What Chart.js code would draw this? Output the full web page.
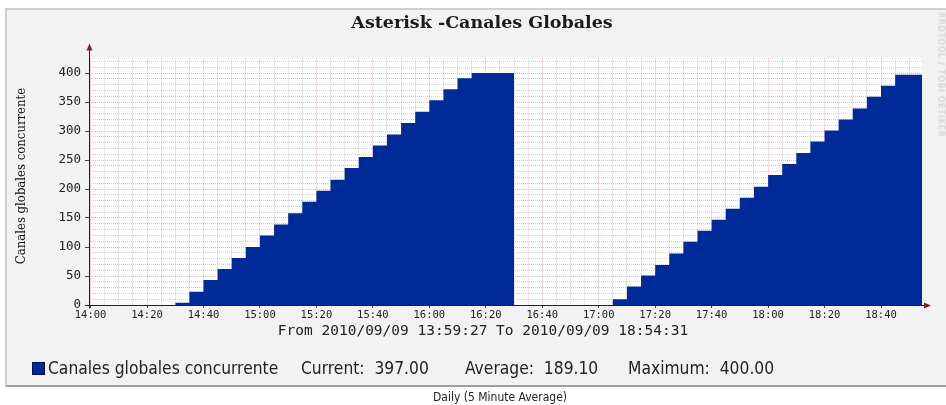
<!DOCTYPE html>
<html>
<head>
<meta charset="utf-8">
<script src="https://cdn.jsdelivr.net/npm/chart.js@4.4.0/dist/chart.umd.min.js"></script>
<style>
  html, body { margin: 0; padding: 0; background: #fff; width: 946px; height: 405px; overflow: hidden; position: relative; }
  #frame { position: absolute; left: 5px; top: 8px; width: 945px; height: 375px; background: #f2f2f2;
           border-top: 2px solid #cfcfcf; border-left: 2px solid #cfcfcf; border-bottom: 2px solid #9e9e9e; }
  canvas { position: absolute; left: 0; top: 0; }
  .txt { position: absolute; white-space: pre; color: #111; }
  #title { left: 482px; top: 12px; transform: translateX(-50%); font: bold 17.5px "DejaVu Serif"; line-height: 20px; color: #1a1a1a; }
  #ytitle { left: 20px; top: 176px; transform: translate(-50%, -50%) rotate(-90deg); font: 13px "DejaVu Serif"; font-stretch: condensed; line-height: 15px; }
  #range { left: 483px; top: 321px; transform: translateX(-50%); font: 14.5px "DejaVu Sans Mono"; line-height: 18px; color: #222; }
  .leg { top: 358px; font: 17.3px "DejaVu Sans"; font-stretch: condensed; line-height: 20px; color: #222; }
  #swatch { position: absolute; left: 32px; top: 362px; width: 11px; height: 11px; background: #002A97; border: 1px solid #001060; }
  #footer { left: 500px; top: 390px; transform: translateX(-50%); font: 12px "DejaVu Sans"; font-stretch: condensed; line-height: 14px; color: #222; }
  #mark { left: 941px; top: 75px; transform: translate(-50%, -50%) rotate(90deg); font: 8px "DejaVu Sans"; letter-spacing: 1px; color: #c8c8c8; line-height: 9px; }
</style>
</head>
<body>
<div id="frame"></div>
<canvas id="chart" width="946" height="405"></canvas>
<div class="txt" id="title">Asterisk -Canales Globales</div>
<div class="txt" id="ytitle">Canales globales concurrente</div>
<div class="txt" id="range">From 2010/09/09 13:59:27 To 2010/09/09 18:54:31</div>
<div id="swatch"></div>
<div class="txt leg" style="left:48px">Canales globales concurrente</div>
<div class="txt leg" style="left:301px">Current:  397.00</div>
<div class="txt leg" style="left:465px">Average:  189.10</div>
<div class="txt leg" style="left:628px">Maximum:  400.00</div>
<div class="txt" id="footer">Daily (5 Minute Average)</div>
<div class="txt" id="mark">RRDTOOL / TOBI OETIKER</div>
<script>
// graph window (rrdtool start / end)
const graphStart = "13:59:27";
const graphEnd = "18:54:31";

// x-axis labels, one every 20 minutes from 14:00
const tickLabels = ["14:00", "14:20", "14:40", "15:00", "15:20", "15:40", "16:00", "16:20",
                    "16:40", "17:00", "17:20", "17:40", "18:00", "18:20", "18:40"];
// y-axis labels, one every 50
const yTickLabels = ["0", "50", "100", "150", "200", "250", "300", "350", "400"];

// 5 minute samples (start of each bin)
const slotTimes = [
  "14:30", "14:35", "14:40", "14:45", "14:50", "14:55",
  "15:00", "15:05", "15:10", "15:15", "15:20", "15:25", "15:30", "15:35", "15:40", "15:45", "15:50", "15:55",
  "16:00", "16:05", "16:10", "16:15", "16:20", "16:25", "16:30", "16:35", "16:40", "16:45", "16:50", "16:55",
  "17:00", "17:05", "17:10", "17:15", "17:20", "17:25", "17:30", "17:35", "17:40", "17:45", "17:50", "17:55",
  "18:00", "18:05", "18:10", "18:15", "18:20", "18:25", "18:30", "18:35", "18:40", "18:45", "18:50"
];
const slotValues = [
  4, 23, 43, 62, 81, 100,
  120, 139, 158, 178, 197, 216, 236, 255, 275, 294, 314, 333,
  353, 372, 391, 400, 400, 400, 0, 0, 0, 0, 0, 0,
  0, 10, 32, 51, 69, 89, 109, 128, 147, 166, 185, 204,
  224, 243, 262, 282, 301, 320, 339, 359, 378, 397, 397
];

const AREA = "#002A97";
const GRID = "rgba(143,143,143,0.42)";
const MGRID = "rgba(222,79,79,0.45)";

// minutes since 14:00
function toMin(t) {
  const [h, m, s = 0] = t.split(":").map(Number);
  return (h - 14) * 60 + m + s / 60;
}

const points = slotTimes.map((t, i) => ({ x: toMin(t), y: slotValues[i] }));
// last sample runs on to the end of the graph window
points.push({ x: toMin(graphEnd), y: slotValues[slotValues.length - 1] });

const plotBg = {
  id: "plotBg",
  beforeDraw(chart) {
    const { ctx, chartArea: a } = chart;
    ctx.save();
    ctx.fillStyle = "#fff";
    ctx.fillRect(a.left, a.top, a.right - a.left, a.bottom - a.top);
    ctx.restore();
  }
};

// rrdtool style axis lines with arrow heads
const axes = {
  id: "axes",
  afterDraw(chart) {
    const { ctx, chartArea: a } = chart;
    const x0 = Math.round(a.left) + 0.5, y0 = Math.round(a.bottom) + 0.5;
    ctx.save();
    ctx.strokeStyle = "#1f1f1f";
    ctx.lineWidth = 1;
    ctx.beginPath();
    ctx.moveTo(x0, y0 + 3); ctx.lineTo(x0, a.top - 9);
    ctx.moveTo(x0 - 3, y0); ctx.lineTo(a.right + 4, y0);
    ctx.stroke();
    ctx.fillStyle = "#801f1f";
    ctx.beginPath();
    ctx.moveTo(x0, a.top - 15); ctx.lineTo(x0 - 3, a.top - 8); ctx.lineTo(x0 + 3, a.top - 8);
    ctx.closePath(); ctx.fill();
    ctx.beginPath();
    ctx.moveTo(a.right + 9, y0); ctx.lineTo(a.right + 2, y0 - 3); ctx.lineTo(a.right + 2, y0 + 3);
    ctx.closePath(); ctx.fill();
    ctx.restore();
  }
};

new Chart(document.getElementById("chart"), {
  type: "line",
  data: {
    datasets: [{
      label: "Canales globales concurrente",
      data: points,
      stepped: true,
      fill: "origin",
      backgroundColor: AREA,
      borderColor: AREA,
      borderWidth: 0,
      pointRadius: 0
    }]
  },
  options: {
    responsive: false,
    animation: false,
    layout: { padding: { top: 58.5, right: 24, left: 0, bottom: 0 } },
    plugins: { legend: { display: false }, tooltip: { enabled: false }, title: { display: false } },
    scales: {
      x: {
        type: "linear",
        z: 1,
        min: toMin(graphStart),
        max: toMin(graphEnd),
        afterBuildTicks: s => {
          const t = [];
          for (let v = 0; v <= s.max; v += 5) t.push({ value: v });
          s.ticks = t;
        },
        afterFit: s => { s.height = 100; },
        ticks: {
          autoSkip: false,
          maxRotation: 0,
          padding: 1,
          color: "#222",
          font: { family: "DejaVu Sans Mono", size: 10.5 },
          callback: v => (v % 20 === 0 ? tickLabels[v / 20] : "")
        },
        grid: {
          color: c => (c.tick && c.tick.value % 20 === 0 ? MGRID : GRID),
          lineWidth: 1,
          tickLength: 3,
          tickColor: c => (c.tick && c.tick.value % 20 === 0 ? "#444" : "transparent")
        },
        border: { display: false, dash: [1, 1] }
      },
      y: {
        type: "linear",
        z: 1,
        min: 0,
        max: 425,
        afterBuildTicks: s => {
          const t = [];
          for (let v = 0; v <= 420; v += 10) t.push({ value: v });
          s.ticks = t;
        },
        afterFit: s => { s.width = 89; },
        ticks: {
          autoSkip: false,
          padding: 4,
          color: "#222",
          font: { family: "DejaVu Sans Mono", size: 12.5 },
          callback: v => (v % 50 === 0 ? yTickLabels[v / 50] : "")
        },
        grid: {
          color: c => (c.tick && c.tick.value % 50 === 0 ? MGRID : GRID),
          lineWidth: 1,
          tickLength: 4,
          tickColor: c => (c.tick && c.tick.value % 50 === 0 ? "#444" : "transparent")
        },
        border: { display: false, dash: [1, 1] }
      }
    }
  },
  plugins: [plotBg, axes]
});
</script>
</body>
</html>
